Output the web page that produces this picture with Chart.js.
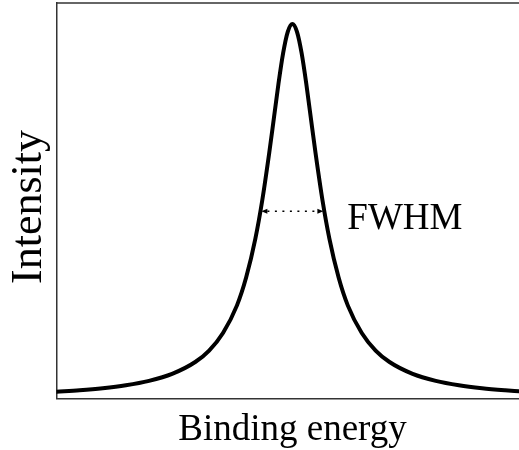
<!DOCTYPE html>
<html>
<head>
<meta charset="utf-8">
<script src="https://cdn.jsdelivr.net/npm/chart.js@4.4.1/dist/chart.umd.min.js"></script>
<style>
html,body{margin:0;padding:0;background:#fff;}
canvas{display:block;}
</style>
</head>
<body>
<canvas id="c" width="519" height="450"></canvas>
<script>
// Binding energy (arbitrary units) and intensity (normalised)
const energy = [0, 0.5, 1.0, 1.5, 2.0, 2.5, 3.0, 3.3, 3.6, 3.9, 4.1, 4.3, 4.45, 4.6, 4.7, 4.8, 4.9, 5.0, 5.1,
                5.2, 5.3, 5.4, 5.5, 5.6, 5.75, 5.9, 6.1, 6.3, 6.6, 6.9, 7.2, 7.7, 8.2, 8.7, 9.2, 9.7, 10.0];
const intensity = [0.018, 0.022, 0.0275, 0.0354, 0.0472, 0.0658, 0.0974, 0.128, 0.175, 0.248, 0.323, 0.427, 0.530, 0.656, 0.748, 0.841, 0.922, 0.979, 1.0,
                   0.979, 0.922, 0.841, 0.748, 0.656, 0.530, 0.427, 0.323, 0.248, 0.175, 0.128, 0.0974, 0.0658, 0.0472, 0.0354, 0.0275, 0.022, 0.0194];
// FWHM marker: left/right energy at half maximum, and the half-maximum level
const fwhmEnergy = [4.43, 5.77];
const fwhmLevel = [0.5];
const fwhmLabel = ["FWHM"];
const axisTitles = ["Binding energy", "Intensity"];

const points = energy.map((e, i) => ({x: e, y: intensity[i]}));
const SERIF = '"Liberation Serif", "Times New Roman", serif';

const frameAndFwhm = {
  id: 'frameAndFwhm',
  afterDraw(chart) {
    const {ctx, chartArea, scales} = chart;
    ctx.save();
    // top frame line
    ctx.strokeStyle = '#333';
    ctx.lineWidth = 1.5;
    ctx.beginPath();
    ctx.moveTo(chartArea.left, chartArea.top);
    ctx.lineTo(chartArea.right, chartArea.top);
    ctx.stroke();
    // FWHM dotted double arrow
    const x1 = scales.x.getPixelForValue(fwhmEnergy[0]);
    const x2 = scales.x.getPixelForValue(fwhmEnergy[1]);
    const y = scales.y.getPixelForValue(fwhmLevel[0]);
    ctx.strokeStyle = '#000';
    ctx.lineWidth = 1.5;
    ctx.setLineDash([2, 5.5]);
    ctx.beginPath();
    ctx.moveTo(x1 + 6, y);
    ctx.lineTo(x2 - 6, y);
    ctx.stroke();
    ctx.setLineDash([]);
    ctx.fillStyle = '#000';
    ctx.beginPath();
    ctx.moveTo(x1, y); ctx.lineTo(x1 + 6, y - 2.5); ctx.lineTo(x1 + 6, y + 2.5); ctx.closePath();
    ctx.fill();
    ctx.beginPath();
    ctx.moveTo(x2, y); ctx.lineTo(x2 - 6, y - 2.5); ctx.lineTo(x2 - 6, y + 2.5); ctx.closePath();
    ctx.fill();
    // label
    ctx.font = '37px ' + SERIF;
    ctx.textAlign = 'left';
    ctx.textBaseline = 'alphabetic';
    ctx.fillText(fwhmLabel[0], x2 + 24, y + 18);
    // axis titles
    ctx.textAlign = 'center';
    ctx.font = '37px ' + SERIF;
    ctx.fillText(axisTitles[0], chartArea.left + 236, chartArea.bottom + 41.5);
    ctx.translate(41, chartArea.top + 204);
    ctx.rotate(-Math.PI / 2);
    ctx.font = '44px ' + SERIF;
    ctx.fillText(axisTitles[1], 0, 0);
    ctx.restore();
  }
};

new Chart(document.getElementById('c'), {
  type: 'line',
  data: {
    datasets: [{
      data: points,
      borderColor: '#000',
      borderWidth: 4,
      pointRadius: 0,
      fill: false,
      cubicInterpolationMode: 'monotone',
      borderJoinStyle: 'round',
      borderCapStyle: 'round'
    }]
  },
  options: {
    responsive: false,
    animation: false,
    devicePixelRatio: 1,
    layout: {padding: {top: 3, right: 0, bottom: 0, left: 0}},
    plugins: {legend: {display: false}, tooltip: {enabled: false}},
    scales: {
      x: {
        type: 'linear',
        min: 0, max: 10,
        ticks: {display: false},
        grid: {display: false, drawTicks: false},
        border: {display: true, color: '#333', width: 1.5},
        afterFit(scale) { scale.height = 51.5; }
      },
      y: {
        type: 'linear',
        min: 0, max: 1.056,
        ticks: {display: false},
        grid: {display: false, drawTicks: false},
        border: {display: true, color: '#333', width: 1.5},
        afterFit(scale) { scale.width = 56.5; }
      }
    }
  },
  plugins: [frameAndFwhm]
});
</script>
</body>
</html>
